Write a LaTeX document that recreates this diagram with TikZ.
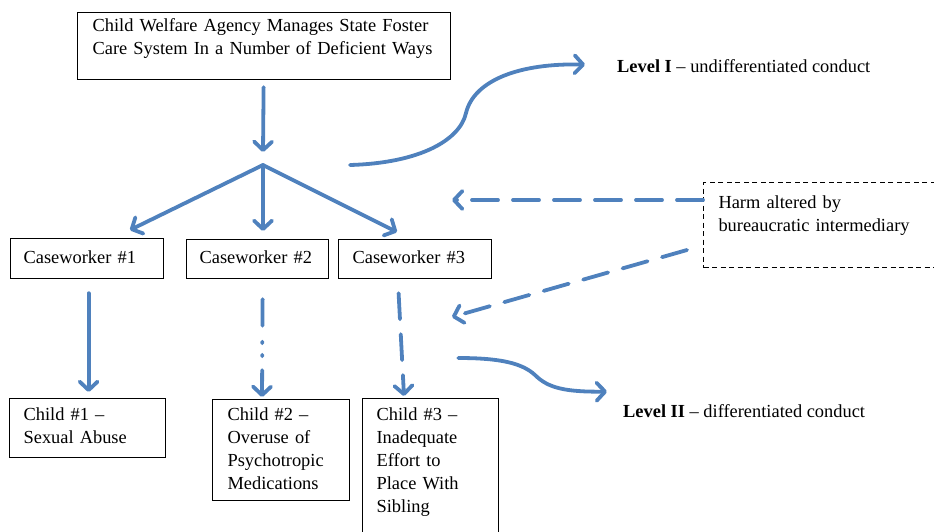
\documentclass[tikz,border=0pt]{standalone}
\usepackage{fontspec}
\setmainfont{Liberation Serif}
\usetikzlibrary{arrows.meta, positioning, calc}
\definecolor{flowblue}{RGB}{79,129,189}
\tikzset{
    box/.style={draw, line width=1.2pt, anchor=north west, align=left, inner ysep=0pt,
        font=\fontsize{18.4}{23}\selectfont},
    harmbox/.style={box, line width=1pt, dash pattern=on 5pt off 3.5pt},
    label/.style={anchor=base west, inner sep=0pt, font=\fontsize{18.4}{23}\selectfont},
    arrow/.style={line width=3.8pt, draw=flowblue, line cap=round,
        -{Straight Barb[round, length=8.5pt, width=18pt]}},
    dasharrow/.style={arrow, dash pattern=on 26pt off 15pt},
    dotarrow/.style={arrow, dash pattern=on 26.5pt off 16pt on 1.5pt off 11.5pt on 1.5pt off 14pt}
}

\begin{document}
\begin{tikzpicture}[x=1pt, y=-1pt]
    \useasboundingbox (0,0) rectangle (934,531);
    % boxes
    \node (agency) [box, inner xsep=15pt, text width=343pt, text height=19pt, text depth=48pt] at (77,12)
        {Child Welfare Agency Manages State Foster\\Care System In a Number of Deficient Ways};
    \node (cw1) [box, inner xsep=13pt, text width=127pt, text height=25pt, text depth=15pt] at (10,238) {Caseworker \#1};
    \node (cw2) [box, inner xsep=13pt, text width=116pt, text height=24pt, text depth=15pt] at (186,239) {Caseworker \#2};
    \node (cw3) [box, inner xsep=14pt, text width=125pt, text height=24pt, text depth=15pt] at (338,239) {Caseworker \#3};
    \node (ch1) [box, inner xsep=14pt, text width=128pt, text height=21.5pt, text depth=37.5pt] at (9,398)
        {Child \#1 –\\Sexual Abuse};
    \node (ch2) [box, inner xsep=15pt, text width=107pt, text height=21pt, text depth=80pt] at (212,399)
        {Child \#2 –\\Overuse of\\Psychotropic\\Medications};
    \node (ch3) [box, inner xsep=14pt, text width=108pt, text height=22pt, text depth=125pt] at (362,398)
        {Child \#3 –\\Inadequate\\Effort to\\Place With\\Sibling};
    \node (harm) [harmbox, inner xsep=15pt, text width=205pt, text height=26pt, text depth=59pt] at (703,182)
        {Harm altered by\\bureaucratic intermediary};
    % levels
    \node (lvl1) [label] at (617,72) {\textbf{Level I} – undifferentiated conduct};
    \node (lvl2) [label] at (623,417) {\textbf{Level II} – differentiated conduct};

    \coordinate (split) at (263,165);
    \coordinate (tipa) at (452,200);
    \coordinate (tipb) at (452,317);

    % agency to caseworkers
    \draw [arrow] ($(agency.south)+(-0.5,7)$) -- ($(split)+(0,-13)$);
    \draw [arrow] (split) -- ($(cw1.north west)+(120,-8)$);
    \draw [arrow] (split) -- ($(cw2.north west)+(77,-8)$);
    \draw [arrow] (split) -- ($(cw3.north west)+(59,-7)$);
    % caseworkers to children
    \draw [arrow] ($(cw1.south)+(1.5,14)$) -- ($(ch1.north)+(1,-6)$);
    \draw [dotarrow] ($(cw2.south)+(5,20)$) -- ($(ch2.north west)+(50,-2)$);
    \draw [dasharrow] ($(cw3.south)+(-16.5,14)$) -- ($(ch3.north west)+(42,-2)$);
    % harm arrows
    \draw [dasharrow] ($(harm.north west)+(0,18)$) -- (tipa);
    \draw [dasharrow] ($(harm.north west)+(-16,68)$) -- (tipb);
    % level curves
    \draw [arrow] ($(split)+(87,0)$) .. controls (420,163) and (460,140) .. (466,113)
        .. controls (474,80) and (520,63) .. ($(lvl1.west)+(-32,-1)$);
    \draw [arrow] ($(cw3.north east)+(-34,119)$) .. controls (500,358) and (522,363) .. (535,375)
        .. controls (548,388) and (565,392) .. ($(lvl2.west)+(-16,-19)$);
\end{tikzpicture}
\end{document}
